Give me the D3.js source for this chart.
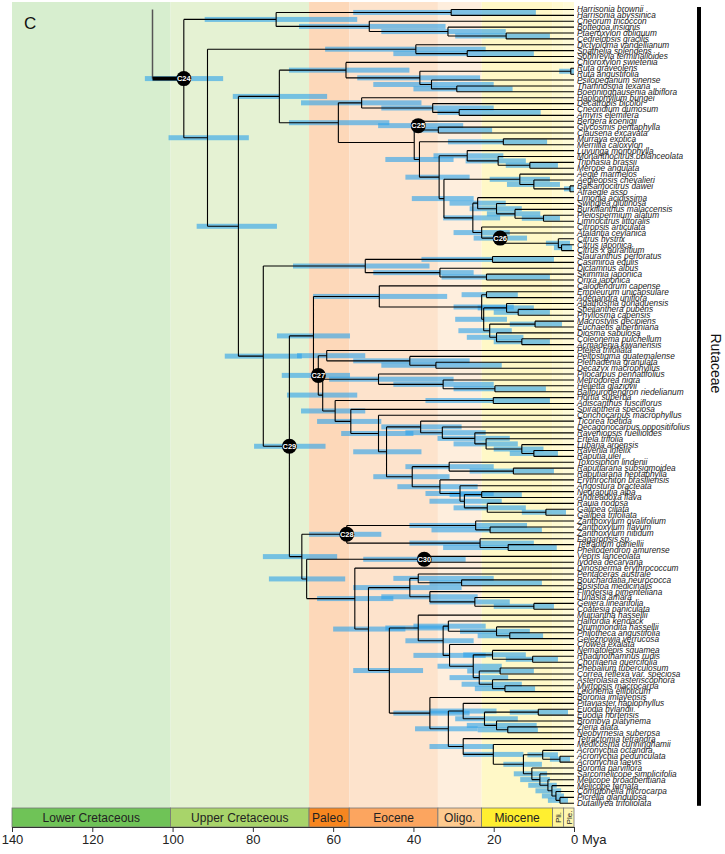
<!DOCTYPE html>
<html><head><meta charset="utf-8">
<script src="https://cdn.jsdelivr.net/npm/d3@7"></script>
<style>body{margin:0;background:#fff}svg{display:block}</style>
</head><body>
<svg id="chart" width="725" height="854"></svg>
<script>
// ---------------- DATA ----------------
const tipNames = [
"Harrisonia brownii","Harrisonia abyssinica","Cneorum tricoccon","Bottegoa insignis","Ptaeroxylon obliquum",
"Cedrelopsis gracilis","Dictyoloma vandellianum","Spathelia splendens","Sohnreyia terminalioides","Chloroxylon swietenia",
"Ruta graveolens","Ruta angustifolia","Psilopeganum sinense","Thamnosma texana","Boenninghausenia albiflora",
"Haplophyllum bungei","Decatropis bicolor","Cneoridium dumosum","Amyris elemifera","Bergera koenigii",
"Glycosmis pentaphylla","Clausena excavata","Murraya exotica","Merrillia caloxylon","Luvunga monophylla",
"Monanthocitrus oblanceolata","Triphasia brassii","Merope angulata","Aegle marmelos","Aegleopsis chevalieri",
"Balsamocitrus dawei","Afraegle asso","Limonia acidissima","Swinglea glutinosa","Burkillanthus malaccensis",
"Pleiospermium alatum","Limnocitrus littoralis","Citropsis articulata","Atalantia ceylanica","Citrus hystrix",
"Citrus japonica","Citrus x aurantium","Stauranthus perforatus","Casimiroa edulis","Dictamnus albus",
"Skimmia japonica","Orixa japonica","Calodendrum capense","Empleurum unicapsulare","Adenandra uniflora",
"Agathosma gonaquensis","Sheilanthera pubens","Phyllosma capensis","Macrostylis decipiens","Euchaetis albertiniana",
"Diosma sabulosa","Coleonema pulchellum","Acmadenia kiwanensis","Ptelea trifoliata","Peltostigma guatemalense",
"Plethadenia granulata","Decazyx macrophyllus","Pilocarpus pennatifolius","Metrodorea nigra","Helietta glaziovii",
"Balfourodendron riedelianum","Hortia superba","Adiscanthus fusciflorus","Spiranthera speciosa","Conchocarpus macrophyllus",
"Ticorea foetida","Decagonocarpus oppositifolius","Raveniopsis ruellioides","Ertela trifolia","Lubaria aroensis",
"Ravenia infelix","Raputia ulei","Toxosiphon lindenii","Raputiarana subsigmoidea","Raputiarana heptaphylla",
"Erythrochiton brasiliensis","Angostura bracteata","Neoraputia alba","Andreadoxa flava","Rauia nodosa",
"Galipea ciliata","Galipea trifoliata","Zanthoxylum ovalifolium","Zanthoxylum flavum","Zanthoxylum nitidum",
"Fagaropsis sp.","Tetradium daniellii","Phellodendron amurense","Vepris lanceolata","Ivodea decaryana",
"Dinosperma erythrococcum","Pentaceras australe","Bouchardatia neurococca","Bosistoa medicinalis","Flindersia pimenteliana",
"Lunasia amara","Geijera linearifolia","Coatesia paniculata","Muiriantha hassellii","Halfordia kendack",
"Drummondita hassellii","Philotheca angustifolia","Geleznowia verrucosa","Crowea exalata","Nematolepis squamea",
"Rhadinothamnus rudis","Chorilaena quercifolia","Phebalium tuberculosum","Correa reflexa var. speciosa","Asterolasia asteriscophora",
"Myrtopsis macrocarpa","Leionema ellipticum","Boronia imlayensis","Pitaviaster haplophyllus","Euodia hylandii",
"Euodia hortensis","Brombya platynema","Zieria alata","Neobyrnesia suberosa","Tetractomia tetrandra",
"Medicosma cunninghamii","Acronychia octandra","Acronychia pedunculata","Acronychia laevis","Boronia parviflora",
"Sarcomelicope simplicifolia","Melicope broadbentiana","Melicope ternata","Comptonella microcarpa","Picrella glandulosa",
"Dutaillyea trifoliolata"];

// topology (tips referenced by their 1-based position in tipNames, internal nodes labelled)
const cladeTop  = "((1,2)harr,(3,(4,(5,6)Cn)B)A)top";
const cladeH    = "(10,((11,12)ruta,(13,(14,15)K)J)I)H";
const cladeM    = "(16,(17,(18,19)O)N)M";
const cladeP    = "((20,(21,22)Q)C25,((23,24)mur,((25,(26,(27,28)triph)mono)T,((29,(30,(31,32)bals)aeg2)aeg,((33,(34,(35,(36,37)X4)X3)X2)X1,(38,(39,(40,(41,42)cit2)cit)C26)Y)W)S)V)R)P";
const cladeAA   = "((43,44)AB,(45,(46,47)skim)AC)AA";
const cladeAE   = "(48,((49,50)AG,((51,(52,53)AI2)AI,((54,55)mac,(56,(57,58)AL)AK)AJ)AM)AF)AE";
const cladeAV   = "(71,(72,(73,(74,(75,(76,77)BB)BA)AZ)AY)AX)AV";
const cladeAW   = "((78,(79,80)BD)BC,(81,(82,((83,84)BH,(85,(86,87)gal)BI)BG)BF)BE)AW";
const cladeC28  = "((88,(89,90)zan2)zan,(91,(92,93)tet)fag)C28";
const cladeBN   = "((97,(98,99)bou)pent,(100,(101,(102,103)BR)BQ)BP)BN";
const cladeBS   = "(104,((105,(106,(107,108)phil)BW)HG,(109,((110,(111,112)rha)CQ,((113,114)phe,(115,(116,117)CU)CT)CS)CR)CO)BV)BS";
const cladeBT   = "(118,((119,((120,121)CA,(122,(123,124)CC)CB)BZ)BY,(125,(126,((127,(128,129)CH)CG,(130,(131,(132,(133,(134,(135,136)CN)CM)CL)CK)CJ)CI)CF)CE)CD)BX)BT";

// node ages in Mya: [label, mean age, 95% HPD young, 95% HPD old]
const nodeDates = [
["C24",97.2,87.4,106.9],["top",74.2,54,92],["harr",30.6,9.5,55],["A",51.0,32,68.5],["B",31.4,17,48],
["Cn",16.9,6,29.6],["D",91.3,81,101],["dict",39.4,22,62],["E",26.6,10,45],["F",83.6,74,94],
["G",73.4,61.5,85],["H",56.8,41,71],["I",38.4,23.4,54],["ruta",0.8,0,3.7],["J",35.5,20,50],
["K",29.2,15.3,40],["L",58.7,46,71],["M",52.9,38,68],["N",35.2,20,48],["O",28.6,8.3,34],
["C25",38.8,27.6,48.8],["Q",33.8,20.4,40],["R",38.5,30,47],["mur",17.6,6.7,31.4],["V",33.6,26,42],
["T",26.6,17.6,35],["mono",18.9,12,27],["triph",11,4,17],["S",32.4,25,40.4],["aeg",13.5,6,21],
["aeg2",10,3.5,16.7],["bals",1,0,2.5],["W",25.2,18.4,32.6],["X1",24,17,31],["X2",19.3,13,26],
["X3",14.7,8.4,21.7],["X4",7.6,3.5,13],["Y",23,16,30],["C26",18.4,11.7,25],["cit",3.9,1,7],
["cit2",3.1,0.5,5],["Z",77.4,67.8,87],["AA",52,36,70],["AB",20.3,5,38],["AC",33.4,25,50],
["skim",21.8,6,33],["C29",70.9,61.9,79.7],["AD",64.9,55.8,74],["AE",48.5,31.6,65],["AF",23,15,30],
["AG",21.8,14,28],["AM",22.5,16.7,29.6],["AI",16.8,10,24],["AI2",13.9,6,20],["AJ",21,15.5,28.8],
["mac",9.7,3,16],["AK",19.3,12.6,26.7],["AL",13,6,20],["C27",63.7,55.8,72.8],["AN",61.6,52,69],
["AP",40.9,26,55],["plet",34.4,18,48],["AO",62.6,54,71.5],["AQ",48.7,30,61],["met",32.6,20,45],
["hel",19.7,7,30],["AR",59.5,52,68],["hor",20.1,6,37],["AS",55.6,48,64],["AT",48.7,40,58],
["AU",46.7,38,55],["AV",38.2,28,48],["AX",32.8,22,42],["AY",24.7,16,34],["AZ",21.9,14,30],
["BA",13,7.6,20],["BB",10,4,16],["AW",40.3,31,50],["BC",31.1,20,42],["BD",15.1,5,26],
["BE",33.4,24,44],["BF",28.4,20,37],["BG",27.3,18,36],["BH",23,13,31],["BI",21.6,12,30],
["gal",7,2,13],["BJ",67.8,59,77.5],["C28",56.6,48,66],["zan",24.5,11.7,41],["zan2",20.9,8,35.5],
["fag",23.4,10,41],["tet",16.4,4.3,32.6],["BK",66.6,57,76],["C30",37.3,27,52.5],["BL",54.6,45,64],
["BM",51.2,42,60],["BN",40.9,28,55],["pent",38.8,20,45],["bou",28,8,36],["BP",35.9,24,48],
["BQ",24.7,16,36],["BR",10,5,20],["BO",46,37.6,55],["BS",38.8,31,47],["BV",32.6,25,42],
["HG",31.3,22,40],["BW",19.3,11,28.4],["phil",16,7.7,24],["CO",31,22,40],["CR",25.1,18,34],
["CQ",20.3,12,27.6],["rha",10.3,4,17],["CS",23.6,16.4,31],["phe",18.4,10,26.6],["CT",20.3,13,28],
["CU",17.2,9.7,24.7],["BT",35.9,26,45],["BX",31.3,24,39.6],["BY",27.6,19.3,35.9],["BZ",22.3,14,29.6],
["CA",8.9,1.5,16],["CB",19.3,9.3,26.7],["CC",16.5,9,24],["CD",27.6,20,36],["CE",20.1,12.6,27.6],
["CF",12.6,8,17.6],["CG",7.8,4,11.6],["CH",3.5,1,6],["CI",10.5,6.7,15],["CJ",8.5,6,13.4],
["CK",6.5,4.3,11.4],["CL",5.5,3.2,9.6],["CM",4.5,2.5,8],["CN",3.5,1.5,6.5]];

const rootAge = 105;
const calibrations = ["C24","C25","C26","C27","C28","C29","C30"];

const periodNames = ["Lower Cretaceous","Upper Cretaceous","Paleo.","Eocene","Oligo.","Miocene","Pli.","Ple."];
const periodStart = [140,100.5,66,56,33.9,23.03,5.33,2.58];
const periodEnd   = [100.5,66,56,33.9,23.03,5.33,2.58,0];
const axisTicks   = [140,120,100,80,60,40,20,0];
const familyLabel = "Rutaceae";
const panelLabel  = "C";

// ---------------- STYLE ----------------
const bandColors = ["#d7eecf","#e5f2d3","#fdd8b9","#fde3cc","#feeedd","#fff8c7","#fffad0","#fffbd8"];
const boxColors  = ["#6fc357","#a8d46a","#f7861f","#fca55f","#fdca8f","#ffef30","#fff59a","#fff6b0"];
const FONT = "'Liberation Sans', Arial, Helvetica, sans-serif";

// ---------------- BUILD TREE ----------------
const treeNewick = "(" + cladeTop + ",((7,(8,9)E)dict,((" + cladeH + ",(" + cladeM + "," + cladeP + ")L)G,(" +
  cladeAA + ",((" + cladeAE + ",((59,(60,(61,62)plet)AP)AN,((63,(64,(65,66)hel)met)AQ,((67,68)hor,(69,(70,(" +
  cladeAV + "," + cladeAW + ")AU)AT)AS)AR)AO)C27)AD,(" + cladeC28 + ",((94,95)C30,(96,(" + cladeBN + ",(" +
  cladeBS + "," + cladeBT + ")BO)BM)BL)BK)BJ)C29)Z)F)D)C24";

function parseNewick(s){
  let i = 0;
  function node(){
    const n = {};
    if (s[i] === "("){
      i++; n.children = [];
      for(;;){ n.children.push(node()); const c = s[i++]; if (c === ")") break; }
    }
    let name = "";
    while (i < s.length && !"(),;".includes(s[i])) name += s[i++];
    n.name = name.trim();
    return n;
  }
  return node();
}

const svg = d3.select("#chart");
const x = d3.scaleLinear().domain([140, 0]).range([12, 574]);
const yTip = d3.scaleLinear().domain([0, tipNames.length - 1]).range([9.5, 803.3]);
const bandTop = 2, boxTop = 808, boxBottom = 827;

const root = d3.hierarchy(parseNewick(treeNewick));
const leaves = root.leaves();
leaves.forEach((d, i) => { d.tip = tipNames[+d.data.name - 1]; d.yy = yTip(i); d.age = 0; });
const dateMap = new Map(nodeDates.map(r => [r[0], r.slice(1)]));
root.eachAfter(d => {
  if (d.children){
    const c = d.children;
    d.yy = (c[0].yy + c[c.length - 1].yy) / 2;
    const r = dateMap.get(d.data.name) || [d3.max(c, k => k.age) + 1, 0, 0];
    d.age = r[0]; d.lo = r[1]; d.hi = r[2];
  }
});
const internals = root.descendants().filter(d => d.children);

// ---------------- DRAW ----------------
// geological background bands
svg.append("g").selectAll("rect").data(periodNames).join("rect")
  .attr("x", (d, i) => x(periodStart[i]))
  .attr("width", (d, i) => x(periodEnd[i]) - x(periodStart[i]))
  .attr("y", bandTop).attr("height", boxTop - bandTop)
  .attr("fill", (d, i) => bandColors[i]);

// HPD bars
svg.append("g").selectAll("rect").data(internals.filter(d => d.hi > d.lo)).join("rect")
  .attr("x", d => x(d.hi)).attr("width", d => x(d.lo) - x(d.hi))
  .attr("y", d => d.yy - 2.5).attr("height", 5)
  .attr("fill", "#2fa3ea").attr("fill-opacity", 0.62);

// branches
let path = "";
root.each(d => {
  if (d.parent) path += `M${x(d.parent.age)},${d.yy}H${x(d.age)}`;
  if (d.children){ const c = d.children; path += `M${x(d.age)},${c[0].yy}V${c[c.length-1].yy}`; }
});
svg.append("path").attr("d", path).attr("fill", "none").attr("stroke", "#000").attr("stroke-width", 1.1);

// root stem
svg.append("line").attr("x1", x(rootAge)).attr("x2", x(rootAge)).attr("y1", yTip(0)).attr("y2", root.yy)
  .attr("stroke", "#555").attr("stroke-width", 1.5);
svg.append("line").attr("x1", x(rootAge)).attr("x2", x(root.age)).attr("y1", root.yy).attr("y2", root.yy)
  .attr("stroke", "#000").attr("stroke-width", 4);

// calibration points
const calNodes = internals.filter(d => calibrations.includes(d.data.name));
const cg = svg.append("g").selectAll("g").data(calNodes).join("g")
  .attr("transform", d => `translate(${x(d.age)},${d.yy})`);
cg.append("circle").attr("r", 7.5).attr("fill", "#000");
cg.append("text").text(d => d.data.name).attr("text-anchor", "middle").attr("dy", "0.35em")
  .attr("fill", "#fff").attr("font-family", FONT).attr("font-weight", "bold").attr("font-size", 7.5);

// tip labels
svg.append("g").selectAll("text").data(leaves).join("text")
  .attr("x", x(0) + 3).attr("y", d => d.yy).attr("dy", "0.35em")
  .attr("font-family", FONT).attr("font-style", "italic").attr("font-size", 8.3).attr("fill", "#222")
  .text(d => d.tip);

// time scale boxes
const tb = svg.append("g");
tb.selectAll("rect").data(periodNames).join("rect")
  .attr("x", (d, i) => x(periodStart[i])).attr("width", (d, i) => x(periodEnd[i]) - x(periodStart[i]))
  .attr("y", boxTop).attr("height", boxBottom - boxTop)
  .attr("fill", (d, i) => boxColors[i]).attr("stroke", "#777").attr("stroke-width", 0.8);
tb.selectAll("text").data(periodNames).join("text")
  .attr("transform", (d, i) => {
    const cx = (x(periodStart[i]) + x(periodEnd[i])) / 2, cy = (boxTop + boxBottom) / 2;
    return i >= 6 ? `translate(${cx},${cy}) rotate(-90)` : `translate(${cx},${cy})`;
  })
  .attr("text-anchor", "middle").attr("dy", "0.35em").attr("font-family", FONT)
  .attr("font-size", (d, i) => i >= 6 ? 8 : 12).attr("fill", "#222")
  .text(d => d);

// axis
const ax = svg.append("g").attr("transform", `translate(0,${boxBottom})`)
  .call(d3.axisBottom(x).tickValues(axisTicks).tickSize(5).tickSizeOuter(0).tickPadding(3).tickFormat(d3.format("d")));
ax.select(".domain").attr("stroke", "#333");
ax.selectAll(".tick line").attr("stroke", "#333");
ax.selectAll(".tick text").attr("font-family", FONT).attr("font-size", 13).attr("fill", "#222");
svg.append("text").attr("x", x(0) + 8).attr("y", boxBottom + 8).attr("dy", "0.71em")
  .attr("font-family", FONT).attr("font-size", 13).attr("fill", "#222").text("Mya");

// family bar and label
svg.append("rect").attr("x", 697).attr("y", yTip(0) - 2.5).attr("width", 4).attr("height", yTip(tipNames.length - 1) - yTip(0) + 5).attr("fill", "#000");
svg.append("text").attr("transform", `translate(711,${(yTip(0) + yTip(tipNames.length - 1)) / 2 - 43}) rotate(90)`)
  .attr("text-anchor", "middle").attr("font-family", FONT).attr("font-size", 14).attr("fill", "#111").text(familyLabel);

// panel letter
svg.append("text").attr("x", 24).attr("y", 29).attr("font-family", FONT).attr("font-size", 17).attr("fill", "#111").text(panelLabel);
</script>
</body></html>
